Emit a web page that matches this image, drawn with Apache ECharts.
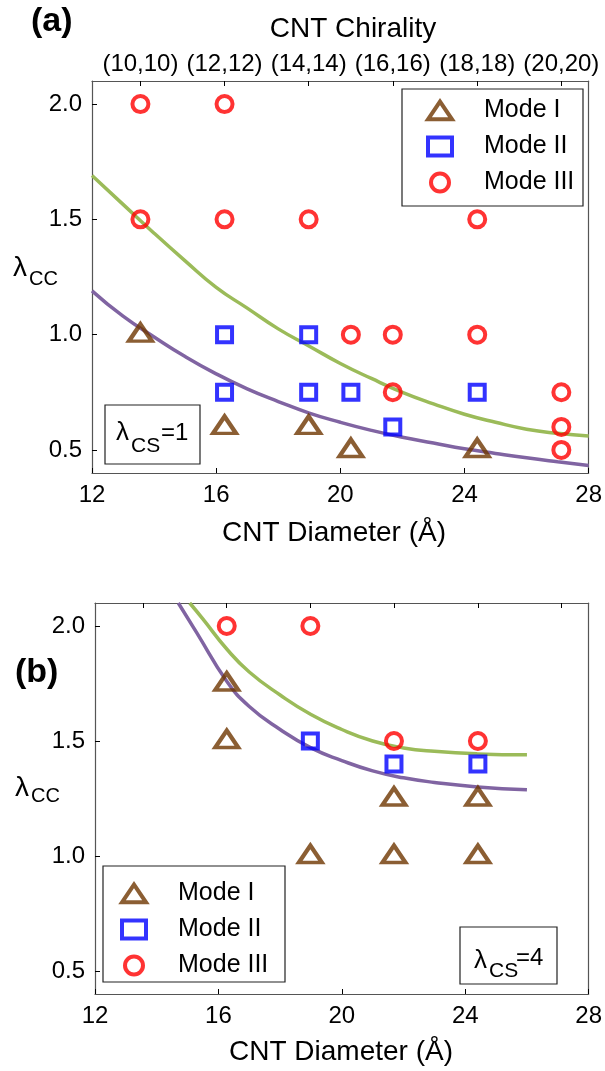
<!DOCTYPE html>
<html>
<head>
<meta charset="utf-8">
<script src="https://cdn.jsdelivr.net/npm/echarts@6/dist/echarts.min.js"></script>
<style>
html,body{margin:0;padding:0;background:#fff;}
#chart{width:605px;height:1071px;}
</style>
</head>
<body>
<div id="chart"></div>
<script>
// ---- Data ----
const chiralityLabels = ['(10,10)','(12,12)','(14,14)','(16,16)','(18,18)','(20,20)'];
const chiralityDiam = [13.56,16.27,18.98,21.69,24.41,27.12];
const xTicks = [12,16,20,24,28];
const yTicks = [0.5,1.0,1.5,2.0];

// Panel (a): lambda_CS = 1
const aModeI = [[13.56,1.0],[16.27,0.6],[18.98,0.6],[20.34,0.5],[24.41,0.5]];
const aModeII = [[16.27,1.0],[18.98,1.0],[16.27,0.75],[18.98,0.75],[20.34,0.75],[21.69,0.6],[24.41,0.75]];
const aModeIII = [[13.56,2.0],[16.27,2.0],[13.56,1.5],[16.27,1.5],[18.98,1.5],[24.41,1.5],
                  [20.34,1.0],[21.69,1.0],[24.41,1.0],[21.69,0.75],[27.12,0.75],[27.12,0.6],[27.12,0.5]];
const aUpperCurve = [[12,1.69],[13,1.565],[14,1.44],[15,1.32],[16,1.205],[17,1.115],[18,1.025],[19,0.95],
                     [20,0.875],[21,0.81],[22,0.75],[23,0.7],[24,0.655],[25,0.62],[26,0.59],[27,0.572],[28,0.56]];
const aLowerCurve = [[12,1.19],[13,1.08],[14,0.99],[15,0.905],[16,0.83],[17,0.765],[18,0.71],[19,0.66],
                     [20,0.62],[21,0.585],[22,0.555],[23,0.53],[24,0.505],[25,0.485],[26,0.466],[27,0.449],[28,0.433]];

// Panel (b): lambda_CS = 4
const bModeI = [[16.27,1.75],[16.27,1.5],[18.98,1.0],[21.69,1.25],[21.69,1.0],[24.41,1.25],[24.41,1.0]];
const bModeII = [[18.98,1.5],[21.69,1.4],[24.41,1.4]];
const bModeIII = [[16.27,2.0],[18.98,2.0],[21.69,1.5],[24.41,1.5]];
const bUpperCurve = [[15.07,2.1],[15.5,2.03],[16.27,1.9],[17,1.8],[18,1.7],[19,1.615],[20,1.55],
                     [21,1.5],[22,1.47],[23,1.455],[24.4,1.444],[26,1.44]];
const bLowerCurve = [[14.7,2.1],[15.3,1.97],[16.27,1.76],[17,1.65],[18,1.55],[19,1.47],[20,1.415],
                     [21,1.37],[22,1.34],[23,1.32],[24.4,1.3],[26,1.288]];

// ---- Styles ----
const BROWN = '#6e3600', BLUE = '#0000ff', RED = '#ff0000', GREEN = '#9bbb59', PURPLE = '#8064a2';
const FONT = '"Liberation Sans", Arial, Helvetica, sans-serif';
const AXIS_COLOR = '#555';
const TRI_ICON = 'path://M0,17L11.5,0L23,17Z';

const chart = echarts.init(document.getElementById('chart'), null, {renderer:'canvas'});

function scatter(name, data, gi, symbol, size, color, offset) {
  return {
    type:'scatter', name, data, xAxisIndex: gi*2, yAxisIndex: gi*2,
    symbol, symbolSize: size, symbolOffset: offset || [0,0], z: 5,
    itemStyle:{color:'rgba(0,0,0,0)', borderColor: color, borderWidth: 4},
    emphasis:{disabled:true}
  };
}
function curve(data, gi, color) {
  return {
    type:'line', data, xAxisIndex: gi*2, yAxisIndex: gi*2, smooth: 0.5,
    symbol:'none', z: 3, lineStyle:{color, width:3.5}, silent:true, clip:true
  };
}
function xBottom(gi) {
  return {
    gridIndex: gi, type:'value', position:'bottom', min:12, max:28, interval:4,
    axisLine:{show:true, onZero:false, lineStyle:{color:AXIS_COLOR, width:1.2}},
    axisTick:{show:true, inside:true, length:5, lineStyle:{color:'#000'}},
    axisLabel:{show:true, margin:10, fontSize:24, color:'#000', fontFamily:FONT},
    splitLine:{show:false}
  };
}
function xTop(gi, showLabels) {
  return {
    gridIndex: gi, type:'value', position:'top', min:12, max:28,
    axisLine:{show:true, onZero:false, lineStyle:{color:AXIS_COLOR, width:1.2}},
    axisTick:{show:true, inside:true, length:5, customValues: chiralityDiam, lineStyle:{color:'#000'}},
    axisLabel:{show:showLabels, margin:5, fontSize:24, color:'#000', fontFamily:FONT,
      customValues: chiralityDiam,
      formatter: function(v){ const i = chiralityDiam.findIndex(d => Math.abs(d - v) < 1e-6); return i >= 0 ? chiralityLabels[i] : ''; }},
    splitLine:{show:false}
  };
}
function yLeft(gi) {
  return {
    gridIndex: gi, type:'value', position:'left', min:0.4, max:2.1,
    axisLine:{show:true, onZero:false, lineStyle:{color:AXIS_COLOR, width:1.2}},
    axisTick:{show:true, inside:true, length:5, customValues: yTicks, lineStyle:{color:'#000'}},
    axisLabel:{show:true, margin:10, fontSize:24, color:'#000', fontFamily:FONT, customValues: yTicks,
      formatter: v => Number(v).toFixed(1)},
    splitLine:{show:false}
  };
}
function yRight(gi) {
  return {
    gridIndex: gi, type:'value', position:'right', min:0.4, max:2.1,
    axisLine:{show:true, onZero:false, lineStyle:{color:AXIS_COLOR, width:1.2}},
    axisTick:{show:false}, axisLabel:{show:false}, splitLine:{show:false}
  };
}
function legendFor(left, top) {
  return {
    orient:'vertical', left, top, itemWidth:24, itemHeight:18, itemGap:11,
    selectedMode:false, symbolKeepAspect:true,
    textStyle:{fontSize:25, color:'#000', fontFamily:FONT, padding:[0,0,0,27]},
    data:[
      {name:'Mode I', icon: TRI_ICON, itemStyle:{color:'rgba(0,0,0,0)', borderColor:BROWN, borderWidth:4}},
      {name:'Mode II', icon:'rect', itemStyle:{color:'rgba(0,0,0,0)', borderColor:BLUE, borderWidth:4}},
      {name:'Mode III', icon:'circle', itemStyle:{color:'rgba(0,0,0,0)', borderColor:RED, borderWidth:4}}
    ]
  };
}
function txt(x, y, text, size, opts) {
  return {type:'text', x, y, z:100, silent:true,
    style:Object.assign({text, fontSize:size, fontFamily:FONT, fill:'#000', align:'left', verticalAlign:'middle'}, opts||{})};
}
function box(x, y, w, h) {
  return {type:'rect', shape:{x, y, width:w, height:h}, z:50, silent:true,
    style:{fill:'#fff', stroke:'#222', lineWidth:1.2}};
}

const option = {
  backgroundColor:'#fff',
  animation:false,
  grid:[
    {left:92, top:81, width:498, height:392},
    {left:95, top:603, width:498, height:391}
  ],
  xAxis:[ xBottom(0), xTop(0, true), xBottom(1), xTop(1, false) ],
  yAxis:[ yLeft(0), yRight(0), yLeft(1), yRight(1) ],
  legend:[ legendFor(421, 93), legendFor(115, 876) ],
  series:[
    curve(aUpperCurve, 0, GREEN),
    curve(aLowerCurve, 0, PURPLE),
    scatter('Mode I', aModeI, 0, 'triangle', [23,17], BROWN, [0,-2]),
    scatter('Mode II', aModeII, 0, 'rect', 15, BLUE),
    scatter('Mode III', aModeIII, 0, 'circle', 16, RED),
    curve(bUpperCurve, 1, GREEN),
    curve(bLowerCurve, 1, PURPLE),
    scatter('Mode I', bModeI, 1, 'triangle', [23,17], BROWN, [0,-2]),
    scatter('Mode II', bModeII, 1, 'rect', 15, BLUE),
    scatter('Mode III', bModeIII, 1, 'circle', 16, RED)
  ],
  graphic:[
    // legend frames (behind legend)
    {type:'rect', shape:{x:402, y:89, width:181, height:117}, z:-1, silent:true, style:{fill:'#fff', stroke:'#222', lineWidth:1.2}},
    {type:'rect', shape:{x:103, y:866, width:182, height:116}, z:-1, silent:true, style:{fill:'#fff', stroke:'#222', lineWidth:1.2}},
    // panel labels
    txt(31, 22, '(a)', 34, {fontWeight:'bold'}),
    txt(15, 673, '(b)', 34, {fontWeight:'bold'}),
    // axis titles
    txt(353, 29, 'CNT Chirality', 28, {align:'center'}),
    txt(334, 533, 'CNT Diameter (\u00C5)', 28, {align:'center'}),
    txt(341, 1052, 'CNT Diameter (\u00C5)', 28, {align:'center'}),
    // lambda_CC labels
    txt(13, 268, '\u03BB', 28),
    txt(29, 279, 'CC', 20),
    txt(15, 788, '\u03BB', 28),
    txt(31, 796, 'CC', 20),
    // lambda_CS boxes
    box(105, 405, 95, 59),
    txt(116, 433, '\u03BB', 26),
    txt(131, 446, 'CS', 21),
    txt(161, 433, '=1', 24),
    box(460, 927, 97, 57),
    txt(474, 961, '\u03BB', 26),
    txt(489, 971, 'CS', 21),
    txt(516, 958, '=4', 24)
  ]
};
chart.setOption(option);
</script>
</body>
</html>
